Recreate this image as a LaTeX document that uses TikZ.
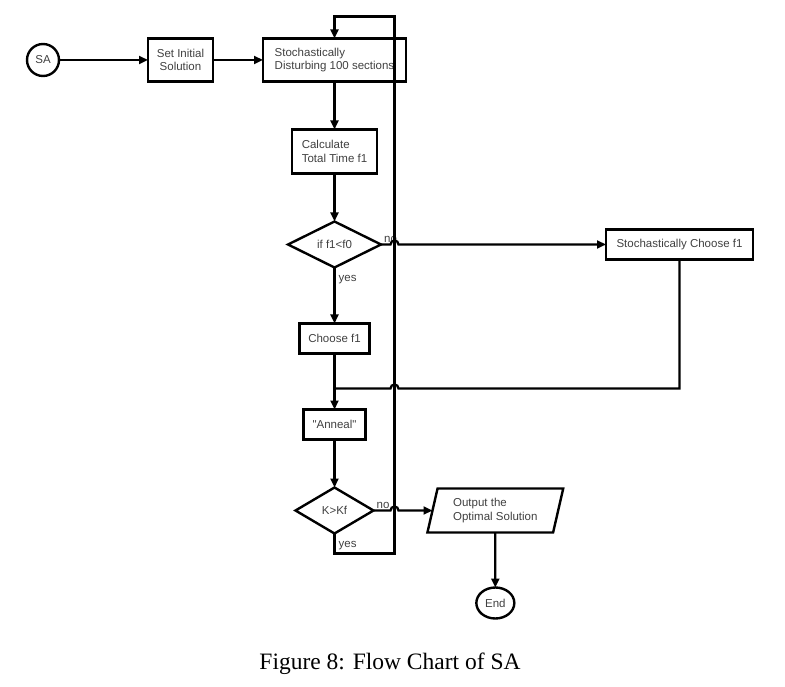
\documentclass[tikz,border=0pt]{standalone}
\usepackage{fontspec}
\setmainfont{Liberation Serif}
\newfontfamily\chartfont{Liberation Sans}
\usepackage{tikz}
\usetikzlibrary{arrows.meta}
\usetikzlibrary{calc}
\usetikzlibrary{positioning}
\usetikzlibrary{shapes.geometric}

\begin{document}
\begin{tikzpicture}[
		x=1pt, y=-1pt,
		>={Triangle[length=9pt, width=8pt]},
		every node/.style={font=\chartfont\fontsize{11.5}{13.5}\selectfont, text=black!75},
		box/.style={draw=black, line width=2.4pt, inner sep=0pt, outer sep=0pt, align=left},
		term/.style={draw=black, line width=2.4pt, ellipse, inner sep=0pt, outer sep=0pt},
		cond/.style={draw=black, line width=2.4pt, diamond, aspect=2, inner sep=0pt, outer sep=0pt},
		io/.style={draw=black, line width=2.4pt, trapezium, trapezium left angle=73,
			trapezium right angle=107, trapezium stretches=true, inner sep=0pt, outer sep=0pt, align=left},
		lbl/.style={inner sep=1pt},
		line/.style={draw, line width=2.3pt},
		flow/.style={line, ->}
	]
	\useasboundingbox (0,0) rectangle (785,687);

	% Start and set-up
	\node[term, minimum width=32pt, minimum height=32pt] (sa) at (43,60) {SA};
	\node[box, right=89pt of sa, minimum width=65pt, minimum height=43pt, align=center] (init) {Set Initial\\Solution};
	\node[box, right=50pt of init, minimum width=143pt, minimum height=43pt] (disturb) {Stochastically\\ Disturbing 100 sections};

	% Main column
	\node[box, below=48pt of disturb, minimum width=85pt, minimum height=44pt] (calc) {Calculate\\Total Time f1};
	\node[cond, below=48pt of calc, minimum width=93pt, minimum height=46pt] (better) {if f1<f0};
	\node[box, below=56pt of better, minimum width=70pt, minimum height=30pt] (take) {Choose f1};
	\node[box, below=56pt of take, minimum width=62pt, minimum height=30pt] (anneal) {"Anneal"};
	\node[cond, below=48pt of anneal, minimum width=78pt, minimum height=46pt] (stop) {K>Kf};
	\node[io, right=59pt of stop, minimum width=137pt, minimum height=44pt] (out) {Output the\\Optimal Solution};
	\node[term, below=55pt of out, minimum width=38pt, minimum height=31pt] (end) {End};

	% Side branch
	\node[box, right=225pt of better, minimum width=147pt, minimum height=30pt] (random) {Stochastically Choose f1};

	% Labels
	\node[lbl, anchor=south west] (nobetter) at ([xshift=2pt,yshift=1pt]better.east) {no};
	\node[lbl, anchor=north west] (yesbetter) at ([xshift=3pt,yshift=-7pt]better.south) {yes};
	\node[lbl, anchor=south west] (nostop) at ([xshift=2pt,yshift=1pt]stop.east) {no};
	\node[lbl, anchor=north west] (yesstop) at ([xshift=3pt,yshift=-7pt]stop.south) {yes};

	% Loop corners
	\coordinate (looptop) at ($(disturb.north)+(60,-22)$);
	\coordinate (loopbot) at ($(stop.south)+(60,20)$);
	\coordinate (merge) at ([yshift=21pt]anneal.north);

	% Arrows
	\draw[flow] (sa) -- (init);
	\draw[flow] (init) -- (disturb);
	\draw[flow] (disturb) -- (calc);
	\draw[flow] (calc) -- (better);
	\draw[flow] (better) -- (take);
	\draw[flow] (stop.south) |- (loopbot) -- (looptop) -| (disturb.north);
	\draw[flow] (better.east) -- ($(better.east -| looptop)+(-4pt,0)$)
		arc[start angle=180, end angle=0, radius=4pt] -- (random.west);
	\draw[line] (random.south) |- ($(merge -| looptop)+(4pt,0)$)
		arc[start angle=0, end angle=180, radius=4pt] -- (merge);
	\draw[line] (take) -- (merge);
	\draw[flow] (merge) -- (anneal);
	\draw[flow] (anneal) -- (stop);
	\draw[flow] (stop.east) -- ($(stop.east -| looptop)+(-4pt,0)$)
		arc[start angle=180, end angle=0, radius=4pt] -- (out.west);
	\draw[flow] (out) -- (end);

	% Caption
	\node[font=\rmfamily\fontsize{23.5}{28}\selectfont, text=black] (caption) at (390,664) {Figure 8: Flow Chart of SA};

\end{tikzpicture}
\end{document}
